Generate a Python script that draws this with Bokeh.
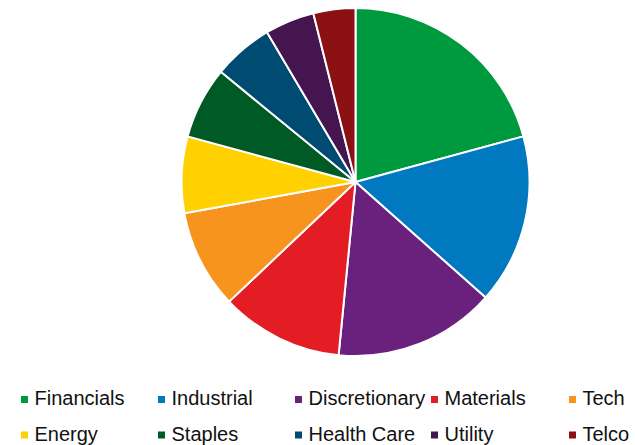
import numpy as np
from bokeh.plotting import figure
from bokeh.models import Range1d
from bokeh.core.properties import value
from bokeh.embed import file_html
from bokeh.resources import INLINE

# Data
sectors = ["Financials", "Industrial", "Discretionary", "Materials", "Tech",
           "Energy", "Staples", "Health Care", "Utility", "Telco"]
shares = [20.8, 15.8, 15.0, 11.4, 9.2, 7.1, 6.7, 5.6, 4.6, 3.9]
colors = ["#009A3E", "#0079C1", "#6A207D", "#E31D23", "#F7941D",
          "#FFD100", "#005A25", "#004B71", "#44154E", "#8B1014"]

W, H = 635, 445
p = figure(width=W, height=H, output_backend="svg", toolbar_location=None,
           x_range=Range1d(0, W), y_range=Range1d(0, H), min_border=0,
           outline_line_color=None)
p.axis.visible = False
p.grid.visible = False
p.background_fill_color = "white"
p.border_fill_color = "white"

vals = np.array(shares, dtype=float)
frac = vals / vals.sum()
cum = np.concatenate([[0], np.cumsum(frac)])
start = np.pi / 2 - cum[1:] * 2 * np.pi
end = np.pi / 2 - cum[:-1] * 2 * np.pi

cx, cy, r = 355, H - 181.5, 174
p.wedge(x=cx, y=cy, radius=r, start_angle=start, end_angle=end,
        direction="anticlock", fill_color=colors, line_color="white", line_width=2)

# Legend (two rows of five)
col_marker_x = [24, 161, 298, 434, 572]
row_marker_y = [H - 399, H - 434.5]
row_text_y = [H - 397.5, H - 433.5]
mx, my, tx, ty = [], [], [], []
for i, name in enumerate(sectors):
    row, col = divmod(i, 5)
    mx.append(col_marker_x[col])
    my.append(row_marker_y[row])
    tx.append(col_marker_x[col] + 10)
    ty.append(row_text_y[row])
p.scatter(x=mx, y=my, marker="square", size=7, fill_color=colors, line_color=None)
p.text(x=tx, y=ty, text=sectors, text_font=value("Liberation Sans"),
       text_font_size="20px", text_color="#111111", text_baseline="alphabetic",
       text_align="left")

open("out.html", "w").write(file_html(p, INLINE))
